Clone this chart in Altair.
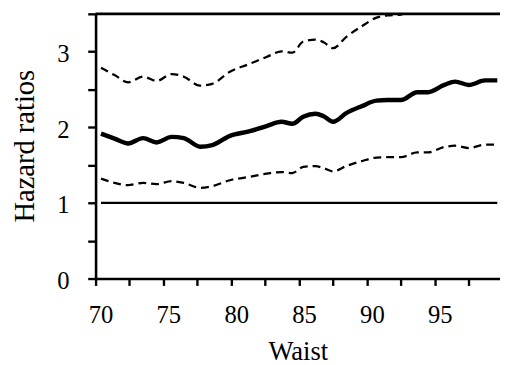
import altair as alt
import pandas as pd

waist = [70.4, 71.4, 72.4, 73.5, 74.5, 75.6, 76.5, 77.7, 78.6, 79.9, 81.3, 82.6, 83.7, 84.5, 85.3,
         86.2, 86.8, 87.5, 88.5, 89.6, 90.7, 91.5, 92.5, 93.7, 94.5, 95.7, 96.5, 97.5, 98.7, 99.6]
hr = [1.917, 1.85, 1.786, 1.857, 1.80, 1.873, 1.857, 1.743, 1.765, 1.887, 1.945, 2.017, 2.073, 2.047, 2.14,
      2.18, 2.147, 2.073, 2.19, 2.278, 2.352, 2.36, 2.36, 2.464, 2.464, 2.56, 2.604, 2.56, 2.62, 2.62]
upper = [2.786, 2.69, 2.595, 2.669, 2.613, 2.704, 2.669, 2.551, 2.575, 2.734, 2.835, 2.93, 3.004, 2.986, 3.134,
         3.16, 3.125, 3.047, 3.2, 3.334, 3.45, 3.48, 3.49, 3.62, 3.63, 3.76, 3.82, 3.78, 3.86, 3.86]
lower = [1.322, 1.265, 1.235, 1.265, 1.248, 1.287, 1.265, 1.2, 1.222, 1.3, 1.343, 1.387, 1.408, 1.395, 1.475,
         1.487, 1.46, 1.417, 1.49, 1.552, 1.6, 1.604, 1.604, 1.669, 1.669, 1.74, 1.756, 1.726, 1.77, 1.77]
ref_x = [70.4, 99.6]
ref_y = [1, 1]
x_ticks = [70, 72.5, 75, 77.5, 80, 82.5, 85, 87.5, 90, 92.5, 95, 97.5]
y_ticks = [0, 0.5, 1, 1.5, 2, 2.5, 3, 3.5]

rows = []
for name, ys in (("hr", hr), ("upper", upper), ("lower", lower)):
    for xv, yv in zip(waist, ys):
        rows.append({"waist": xv, "value": yv, "series": name})
df = pd.DataFrame(rows)
ref_df = pd.DataFrame({"waist": ref_x, "value": ref_y})
top_df = pd.DataFrame({"waist": [70], "x2": [99.8], "value": [3.5]})

xscale = alt.Scale(domain=[70, 99.8], nice=False, zero=False)
yscale = alt.Scale(domain=[0, 3.5], nice=False)

common = dict(grid=False, domainColor="black", domainWidth=2.6, tickColor="black", tickWidth=2.4,
              labelFont="Liberation Serif", titleFont="Liberation Serif", labelColor="black",
              titleColor="black", titleFontWeight="normal", labelFontSize=25, labelFlush=False,
              labelOverlap=False)

xaxis = alt.Axis(values=x_ticks,
                 labelExpr="datum.value % 5 == 0 ? format(datum.value, 'd') : ''",
                 title="Waist", titleBaseline="alphabetic", titleY=82, titleFontSize=27,
                 tickSize=7, labelPadding=18, labelOffset=5, **common)
yaxis = alt.Axis(values=y_ticks,
                 labelExpr="datum.value % 1 == 0 ? format(datum.value, 'd') : ''",
                 title="Hazard ratios", titleAngle=270, titleBaseline="alphabetic",
                 titleAlign="center", titleX=-63, titleY=134, titleFontSize=29,
                 tickSize=8, labelPadding=19, labelAlign="right", labelBaseline="middle",
                 labelOffset=2, **common)

X = alt.X("waist:Q", scale=xscale, axis=xaxis)
Y = alt.Y("value:Q", scale=yscale, axis=yaxis)

base = alt.Chart(df)
main = base.transform_filter("datum.series == 'hr'").mark_line(
    color="black", strokeWidth=4.5, clip=True, interpolate="monotone").encode(x=X, y=Y)
up = base.transform_filter("datum.series == 'upper'").mark_line(
    color="black", strokeWidth=2.3, strokeDash=[8, 5], clip=True, interpolate="monotone").encode(x=X, y=Y)
lo = base.transform_filter("datum.series == 'lower'").mark_line(
    color="black", strokeWidth=2.3, strokeDash=[8, 5], clip=True, interpolate="monotone").encode(x=X, y=Y)
ref = alt.Chart(ref_df).mark_line(color="black", strokeWidth=2.2).encode(x=X, y=Y)
top = alt.Chart(top_df).mark_rule(color="black", strokeWidth=2.6).encode(x=X, x2="x2:Q", y=Y)

chart = alt.layer(ref, lo, up, main, top).properties(
    width=411, height=269,
    autosize=alt.AutoSizeParams(type="none"),
    padding={"left": 89, "top": 3, "right": 0, "bottom": 90},
).configure_view(stroke=None).configure_axisY(
    tickSize=8, labelPadding=19, labelFontSize=25, labelFont="Liberation Serif"
).configure_axisX(
    tickSize=7, labelPadding=18, labelFontSize=25, labelFont="Liberation Serif"
)

chart.save("out.html", embed_options={"renderer": "svg", "actions": False})
